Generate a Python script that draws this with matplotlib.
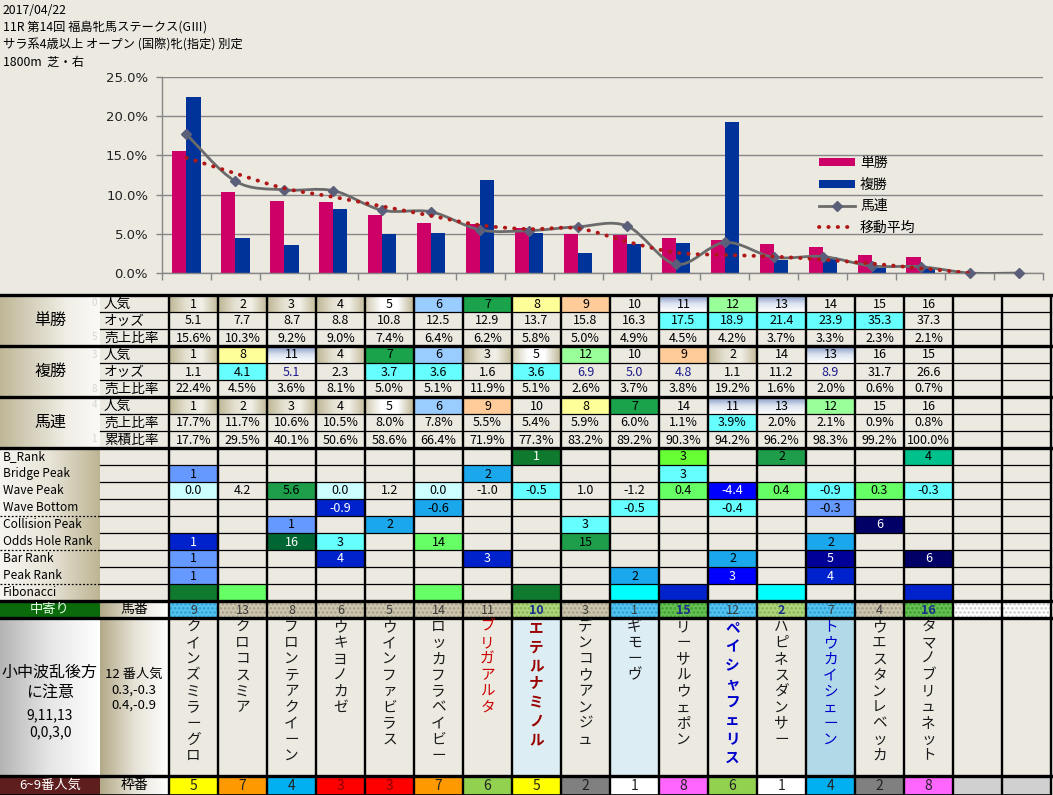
import numpy as np
import matplotlib
matplotlib.use('Agg')
import matplotlib.pyplot as plt
from matplotlib.patches import Rectangle, PathPatch, Patch
from matplotlib.path import Path
from matplotlib.lines import Line2D
from matplotlib.colors import LinearSegmentedColormap

plt.rcParams['font.family'] = ['Noto Sans CJK JP', 'DejaVu Sans']
plt.rcParams['hatch.linewidth'] = 1.2

# ---------------- data ----------------
title_lines = ['2017/04/22', '11R 第14回 福島牝馬ステークス(GⅢ)',
               'サラ系4歳以上 オープン (国際)牝(指定) 別定', '1800m  芝・右']

n_cols = 18
tan_pop = [1, 2, 3, 4, 5, 6, 7, 8, 9, 10, 11, 12, 13, 14, 15, 16]
tan_odds = ['5.1', '7.7', '8.7', '8.8', '10.8', '12.5', '12.9', '13.7', '15.8', '16.3',
            '17.5', '18.9', '21.4', '23.9', '35.3', '37.3']
tan_share = [15.6, 10.3, 9.2, 9.0, 7.4, 6.4, 6.2, 5.8, 5.0, 4.9, 4.5, 4.2, 3.7, 3.3, 2.3, 2.1]

fuku_pop = [1, 8, 11, 4, 7, 6, 3, 5, 12, 10, 9, 2, 14, 13, 16, 15]
fuku_odds = ['1.1', '4.1', '5.1', '2.3', '3.7', '3.6', '1.6', '3.6', '6.9', '5.0',
             '4.8', '1.1', '11.2', '8.9', '31.7', '26.6']
fuku_share = [22.4, 4.5, 3.6, 8.1, 5.0, 5.1, 11.9, 5.1, 2.6, 3.7, 3.8, 19.2, 1.6, 2.0, 0.6, 0.7]

umaren_pop = [1, 2, 3, 4, 5, 6, 9, 10, 8, 7, 14, 11, 13, 12, 15, 16]
umaren_share = [17.7, 11.7, 10.6, 10.5, 8.0, 7.8, 5.5, 5.4, 5.9, 6.0, 1.1, 3.9, 2.0, 2.1, 0.9, 0.8]
umaren_cum = [17.7, 29.5, 40.1, 50.6, 58.6, 66.4, 71.9, 77.3, 83.2, 89.2, 90.3, 94.2, 96.2, 98.3, 99.2, 100.0]
umaren_line = [17.7, 11.7, 10.6, 10.5, 8.0, 7.8, 5.5, 5.4, 5.9, 6.0, 1.1, 3.9, 2.0, 2.1, 0.9, 0.8, 0.0, 0.0]
moving_avg = [14.7, 12.7, 10.8, 9.7, 8.5, 7.3, 6.1, 5.6, 5.7, 4.0, 2.6, 2.3, 2.1, 1.7, 1.2, 0.6, 0.0]

yticks = [0, 5, 10, 15, 20, 25]
legend_labels = ['単勝', '複勝', '馬連', '移動平均']

group_labels = ['単勝', '複勝', '馬連']
sub_labels = [['人気', 'オッズ', '売上比率'], ['人気', 'オッズ', '売上比率'], ['人気', '売上比率', '累積比率']]
side_digits = [['0', '', '5'], ['3', '', '8'], ['4', '', '1']]

lower_labels = ['B_Rank', 'Bridge Peak', 'Wave Peak', 'Wave Bottom', 'Collision Peak',
                'Odds Hole Rank', 'Bar Rank', 'Peak Rank', 'Fibonacci']
b_rank = ['', '', '', '', '', '', '', '1', '', '', '3', '', '2', '', '', '4']
bridge_peak = ['1', '', '', '', '', '', '2', '', '', '', '3', '', '', '', '', '']
wave_peak = ['0.0', '4.2', '5.6', '0.0', '1.2', '0.0', '-1.0', '-0.5', '1.0', '-1.2',
             '0.4', '-4.4', '0.4', '-0.9', '0.3', '-0.3']
wave_bottom = ['', '', '', '-0.9', '', '-0.6', '', '', '', '-0.5', '', '-0.4', '', '-0.3', '', '']
collision_peak = ['', '', '1', '', '2', '', '', '', '3', '', '', '', '', '', '6', '']
odds_hole = ['1', '', '16', '3', '', '14', '', '', '15', '', '', '', '', '2', '', '']
bar_rank = ['1', '', '', '4', '', '', '3', '', '', '', '', '2', '', '5', '', '6']
peak_rank = ['1', '', '', '', '', '', '', '', '', '2', '', '3', '', '4', '', '']
fibonacci = ['', '', '', '', '', '', '', '', '', '', '', '', '', '', '', '']

umaban = [9, 13, 8, 6, 5, 14, 11, 10, 3, 1, 15, 12, 2, 7, 4, 16]
names = ['クインズミラーグロ', 'クロコスミア', 'フロンテアクイーン', 'ウキヨノカゼ', 'ウインファビラス',
         'ロッカフラベイビー', 'ブリガアルタ', 'エテルナミノル', 'デンコウアンジュ', 'ギモーヴ',
         'リーサルウェポン', 'ペイシャフェリス', 'ハピネスダンサー', 'トウカイシェーン',
         'ウエスタンレベッカ', 'タマノブリュネット']
waku = [5, 7, 4, 3, 3, 7, 6, 5, 2, 1, 8, 6, 1, 4, 2, 8]

note_left = '小中波乱後方\nに注意'
note_left_nums = '9,11,13\n0,0,3,0'
note_mid = '12 番人気\n0.3,-0.3\n0.4,-0.9'
row_chuyori = '中寄り'
row_umaban = '馬番'
row_waku = '枠番'
row_bottom_left = '6~9番人気'

# ---------------- styles ----------------
W, H = 1053, 795
BG = '#ECE9E1'
MAG = '#CC0066'
NAVYBAR = '#003399'
TAN_G = ['#BDB593', '#E4E0D0', '#F2F0E8', '#C3BB9B']
WHITE_G = ['#CFC8AE', '#FFFFFF', '#FFFFFF', '#BDB593']
BLUE_G = ['#7E94C2', '#DCE3F0', '#FFFFFF']
LBLUE = '#99CCFF'; GREEN7 = '#1AA34A'; YEL = '#FFFF99'; PEACH = '#FFCC99'; LGR12 = '#99FF99'
CYAN = '#66FFFF'; LCYAN = '#CCFFFF'; CORN = '#6699FF'; SKY = '#1AA7EC'
BLUE = '#0000FF'; MBLUE = '#0022CC'; NAVY = '#000099'; DNAVY = '#000066'
DGREEN = '#0F7A2E'; GREEN = '#1E9E4A'; DDGREEN = '#006633'; LGREEN = '#66FF66'
LIME = '#66FF33'; TEAL = '#00C08B'; FCYAN = '#00FFFF'
DARKS = {DGREEN, DDGREEN, BLUE, MBLUE, NAVY, DNAVY}


def pop_style(p):
    if p <= 4:
        return ('g', TAN_G)
    if p == 5:
        return ('g', WHITE_G)
    if p in (11, 13):
        return ('v', BLUE_G)
    return ('s', {6: LBLUE, 7: GREEN7, 8: YEL, 9: PEACH, 12: LGR12}.get(p))


tan_odds_bg = {10: CYAN, 11: CYAN, 12: CYAN, 13: CYAN, 14: CYAN}
fuku_odds_bg = {1: CYAN, 4: CYAN, 5: CYAN, 7: CYAN}
fuku_odds_navy = {2, 8, 9, 10, 13}
umaren_share_bg = {11: CYAN}

lower_colors = [
    {7: DGREEN, 10: LIME, 12: GREEN, 15: TEAL},
    {0: CORN, 6: SKY, 10: CYAN},
    {0: LCYAN, 2: GREEN, 3: LCYAN, 5: LCYAN, 7: CYAN, 10: LGREEN, 11: BLUE, 12: LGREEN,
     13: CYAN, 14: LGREEN, 15: CYAN},
    {3: MBLUE, 5: SKY, 9: CYAN, 11: CYAN, 13: CORN},
    {2: CORN, 4: SKY, 8: CYAN, 14: DNAVY},
    {0: MBLUE, 2: DDGREEN, 3: CYAN, 5: LGREEN, 8: GREEN, 13: SKY},
    {0: CORN, 3: MBLUE, 6: MBLUE, 11: SKY, 13: NAVY, 15: DNAVY},
    {0: CORN, 9: SKY, 11: BLUE, 13: MBLUE},
    {0: DGREEN, 1: LGREEN, 5: LGREEN, 7: DGREEN, 9: FCYAN, 10: MBLUE, 12: FCYAN, 15: MBLUE},
]
lower_values = [b_rank, bridge_peak, wave_peak, wave_bottom, collision_peak, odds_hole,
                bar_rank, peak_rank, fibonacci]

TANH = ('#CDC6AE', '#A79E86'); BLH = ('#55C3EE', '#2AA0D8'); G1 = ('#AED47C', '#86B553')
G2 = ('#66C052', '#3E9C33'); WH = ('#FFFFFF', '#C8C8C8')
umaban_style = [BLH, TANH, TANH, TANH, TANH, TANH, TANH, G1, TANH, BLH, G2, BLH, G1, BLH, TANH, G2]
umaban_bold = {7, 10, 12, 15}
name_bg = {7: '#DCEDF4', 9: '#DCEDF4', 13: '#B2D9E7'}
name_style = {6: ('#CC0000', 'normal'), 7: ('#990000', 'bold'), 11: ('#0000CC', 'bold'),
              13: ('#0000CC', 'normal')}
waku_colors = {1: '#FFFFFF', 2: '#808080', 3: '#FF0000', 4: '#00B0F0', 5: '#FFFF00',
               6: '#92D050', 7: '#FF9900', 8: '#FF66FF'}

# ---------------- figure ----------------
fig = plt.figure(figsize=(W / 100, H / 100), dpi=100, facecolor=BG)
ax_t = fig.add_axes([0, 0, 1, 1])
ax_t.set_facecolor(BG)
ax_t.axis('off')

X0, CW = 169.0, 49.0
Y0, RH = 295.0, 17.0
XR = X0 + n_cols * CW


def cx(c):
    return X0 + c * CW


def ry(r):
    return Y0 + r * RH


def grad(x0, y0, x1, y1, colors, vertical=False, z=1):
    cmap = LinearSegmentedColormap.from_list('g', colors)
    g = np.linspace(0, 1, 128)
    arr = g[:, None] if vertical else g[None, :]
    ax_t.imshow(arr, cmap=cmap, extent=(x0, x1, y1, y0), aspect='auto', origin='upper',
                interpolation='bilinear', zorder=z)


def fill(x0, y0, x1, y1, color, z=1, **kw):
    ax_t.add_patch(Rectangle((x0, y0), x1 - x0, y1 - y0, facecolor=color, edgecolor='none',
                             lw=0, zorder=z, **kw))


def put(x, y, s, size=9, color='black', ha='center', weight='normal', **kw):
    ax_t.text(x, y, s, fontsize=size, color=color, ha=ha, va='center', weight=weight,
              zorder=5, **kw)


def cell(c, r, text, style=None, tc='black', weight='normal'):
    x0, x1 = cx(c), cx(c + 1)
    y0, y1 = ry(r), ry(r + 1)
    if style is not None:
        kind, col = style
        if kind == 'g':
            grad(x0, y0, x1, y1, col)
        elif kind == 'v':
            grad(x0, y0, x1, y1, col, vertical=True)
        elif col is not None:
            fill(x0, y0, x1, y1, col)
    if text != '':
        put((x0 + x1) / 2, (y0 + y1) / 2 + 0.5, text, size=9, color=tc, weight=weight)


# title
for i, t in enumerate(title_lines):
    ax_t.text(3, 10 + i * 17.3, t, fontsize=8.8, ha='left', va='center', zorder=5)

# top groups
for g in range(3):
    ytop, ybot = ry(3 * g), ry(3 * g + 3)
    grad(0, ytop, 100, ybot, ['#BFB796', '#D8D3BF', '#F0EEE6', '#FBFAF7'])
    put(50, (ytop + ybot) / 2, group_labels[g], size=11.5)
    for k in range(3):
        r = 3 * g + k
        put(104, (ry(r) + ry(r + 1)) / 2, sub_labels[g][k], size=9.8, ha='left')
        if side_digits[g][k]:
            put(97, (ry(r) + ry(r + 1)) / 2, side_digits[g][k], size=7, color='#D5D5D5', ha='right')

for c in range(16):
    cell(c, 0, str(tan_pop[c]), pop_style(tan_pop[c]))
    cell(c, 1, tan_odds[c], ('s', tan_odds_bg.get(c)))
    cell(c, 2, f'{tan_share[c]:.1f}%')
    cell(c, 3, str(fuku_pop[c]), pop_style(fuku_pop[c]))
    cell(c, 4, fuku_odds[c], ('s', fuku_odds_bg.get(c)),
         tc='#1A1A8C' if c in fuku_odds_navy else 'black')
    cell(c, 5, f'{fuku_share[c]:.1f}%')
    cell(c, 6, str(umaren_pop[c]), pop_style(umaren_pop[c]))
    cell(c, 7, f'{umaren_share[c]:.1f}%', ('s', umaren_share_bg.get(c)))
    cell(c, 8, f'{umaren_cum[c]:.1f}%')

# lower section
grad(0, ry(9), 100, ry(18), ['#F6F5F0', '#E8E4D8', '#BDB593'])
for k, lab in enumerate(lower_labels):
    r = 9 + k
    put(3, (ry(r) + ry(r + 1)) / 2, lab, size=8.6, ha='left')
    for c in range(16):
        col = lower_colors[k].get(c)
        cell(c, r, lower_values[k][c], ('s', col), tc='white' if col in DARKS else 'black')

# umaban row
fill(0, ry(18), 100, ry(19), '#0B6B0B')
put(50, (ry(18) + ry(19)) / 2, row_chuyori, size=9.5, color='#E8FFE8')
grad(100, ry(18), X0, ry(19), ['#B3AA88', '#E6E2D6', '#FFFFFF'])
put(134, (ry(18) + ry(19)) / 2, row_umaban, size=10)
for c in range(n_cols):
    fc, hc = umaban_style[c] if c < 16 else WH
    ax_t.add_patch(Rectangle((cx(c), ry(18)), CW, RH, facecolor=fc, edgecolor=hc, lw=0,
                             hatch='....', zorder=1))
    if c < 16:
        bold = c in umaban_bold
        put(cx(c) + CW / 2, (ry(18) + ry(19)) / 2 + 0.5, str(umaban[c]), size=9,
            color='#1A2E8C' if bold else '#3A3A3A', weight='bold' if bold else 'normal')

# names row
NY0, NY1 = ry(19), 776.0
grad(0, NY0, 100, NY1, ['#B4B4B4', '#E6E6E6', '#FFFFFF'])
grad(100, NY0, X0, NY1, ['#B3AA88', '#E6E2D6', '#FFFFFF'])
ax_t.text(50, 682, note_left, fontsize=11.5, ha='center', va='center', linespacing=1.25, zorder=5)
ax_t.text(50, 724, note_left_nums, fontsize=10, ha='center', va='center', linespacing=1.3, zorder=5)
ax_t.text(134, 690, note_mid, fontsize=9.5, ha='center', va='center', linespacing=1.25, zorder=5)
for c in range(n_cols):
    if c in name_bg:
        fill(cx(c), NY0, cx(c + 1), NY1, name_bg[c])
    if c < 16:
        colr, wt = name_style.get(c, ('#1A1A1A', 'normal'))
        ax_t.text(cx(c) + CW / 2, NY0 + 2, '\n'.join(names[c]), fontsize=10.5, ha='center',
                  va='top', linespacing=1.19, color=colr, weight=wt, zorder=5)

# waku row
fill(0, NY1, 100, H, '#5E1E1E')
put(50, (NY1 + H) / 2, row_bottom_left, size=9.5, color='white')
grad(100, NY1, X0, H, ['#B3AA88', '#E6E2D6', '#FFFFFF'])
put(134, (NY1 + H) / 2, row_waku, size=10)
for c in range(n_cols):
    if c < 16:
        fill(cx(c), NY1, cx(c + 1), H, waku_colors[waku[c]])
        put(cx(c) + CW / 2, (NY1 + H) / 2 + 0.5, str(waku[c]), size=10,
            color='#8B0000' if waku[c] == 3 else '#222222')
    else:
        fill(cx(c), NY1, cx(c + 1), H, '#D0D0D0')

# grid lines
LZ = 4
for c in range(n_cols + 1):
    ax_t.plot([cx(c), cx(c)], [Y0, H], color='black', lw=1.7, zorder=LZ, solid_capstyle='butt')
for r in range(19):
    yy = ry(r)
    if r in (0, 3, 6, 9, 18):
        ax_t.plot([0, XR], [yy, yy], color='black', lw=2.4, zorder=LZ)
    else:
        ax_t.plot([100, XR], [yy, yy], color='black', lw=0.9, zorder=LZ)
for yy in (ry(19), NY1):
    ax_t.plot([0, XR], [yy, yy], color='black', lw=2.4, zorder=LZ)
ax_t.plot([0, XR], [H - 0.5, H - 0.5], color='black', lw=1.2, zorder=LZ)
for r in (13, 15, 17):
    ax_t.plot([0, 100], [ry(r), ry(r)], color='black', lw=0.9, ls=(0, (1.5, 1.5)), zorder=LZ)

ax_t.set_xlim(0, W)
ax_t.set_ylim(H, 0)

# ---------------- chart ----------------
ax = fig.add_axes([162 / W, 1 - 273 / H, (1043 - 162) / W, (273 - 77) / H])
ax.set_facecolor('none')
x = np.arange(n_cols)
ax.set_xlim(-0.5, n_cols - 0.5)
ax.set_ylim(0, 25)
ax.set_yticks(yticks)
ax.set_yticklabels([f'{v:.1f}%' for v in yticks], fontsize=9.5, family='DejaVu Sans', color='#222222')
ax.yaxis.grid(True, color='#878787', lw=1.0)
ax.set_axisbelow(True)
ax.set_xticks(np.arange(-0.5, n_cols, 1.0))
ax.set_xticklabels([])
ax.tick_params(axis='x', length=5, color='#878787', width=1)
ax.tick_params(axis='y', length=4, color='#878787', width=1, pad=6)
for s in ('top', 'right'):
    ax.spines[s].set_visible(False)
for s in ('left', 'bottom'):
    ax.spines[s].set_color('#878787')
    ax.spines[s].set_linewidth(1.0)

bw = 0.29
ax.bar(x[:16] - bw / 2, tan_share, width=bw, color=MAG, zorder=2)
ax.bar(x[:16] + bw / 2, fuku_share, width=bw, color=NAVYBAR, zorder=2)


def smooth_path(xs, ys):
    pts = np.column_stack([xs, ys]).astype(float)
    n = len(pts)
    verts = [pts[0]]
    codes = [Path.MOVETO]
    for i in range(n - 1):
        p0 = pts[i - 1] if i > 0 else pts[i]
        p1, p2 = pts[i], pts[i + 1]
        p3 = pts[i + 2] if i + 2 < n else pts[i + 1]
        verts += [p1 + (p2 - p0) / 6, p2 - (p3 - p1) / 6, p2]
        codes += [Path.CURVE4] * 3
    return Path(verts, codes)


ax.add_patch(PathPatch(smooth_path(x, umaren_line), fill=False, edgecolor='#6B6B6B', lw=2.0, zorder=3))
ax.plot(x, umaren_line, ls='none', marker='D', ms=5, color='#5B5F7A', zorder=4, clip_on=False)
ax.add_patch(PathPatch(smooth_path(x[:len(moving_avg)], moving_avg), fill=False, edgecolor='#B01818',
                       lw=2.8, ls=(0, (0.1, 2.3)), capstyle='round', zorder=5))

handles = [Patch(facecolor=MAG), Patch(facecolor=NAVYBAR),
           Line2D([], [], color='#6B6B6B', lw=2, marker='D', ms=5, mfc='#5B5F7A', mec='#5B5F7A'),
           Line2D([], [], color='#B01818', lw=2.8, ls=(0, (0.1, 2.3)), dash_capstyle='round')]
fig.legend(handles, legend_labels, loc='upper left', bbox_to_anchor=(819 / W, 1 - 156 / H),
           frameon=False, fontsize=10, handlelength=2.6, handleheight=0.5, labelspacing=0.55,
           handletextpad=0.35, borderaxespad=0, borderpad=0)

fig.savefig('out.png', dpi=100, facecolor=BG)
